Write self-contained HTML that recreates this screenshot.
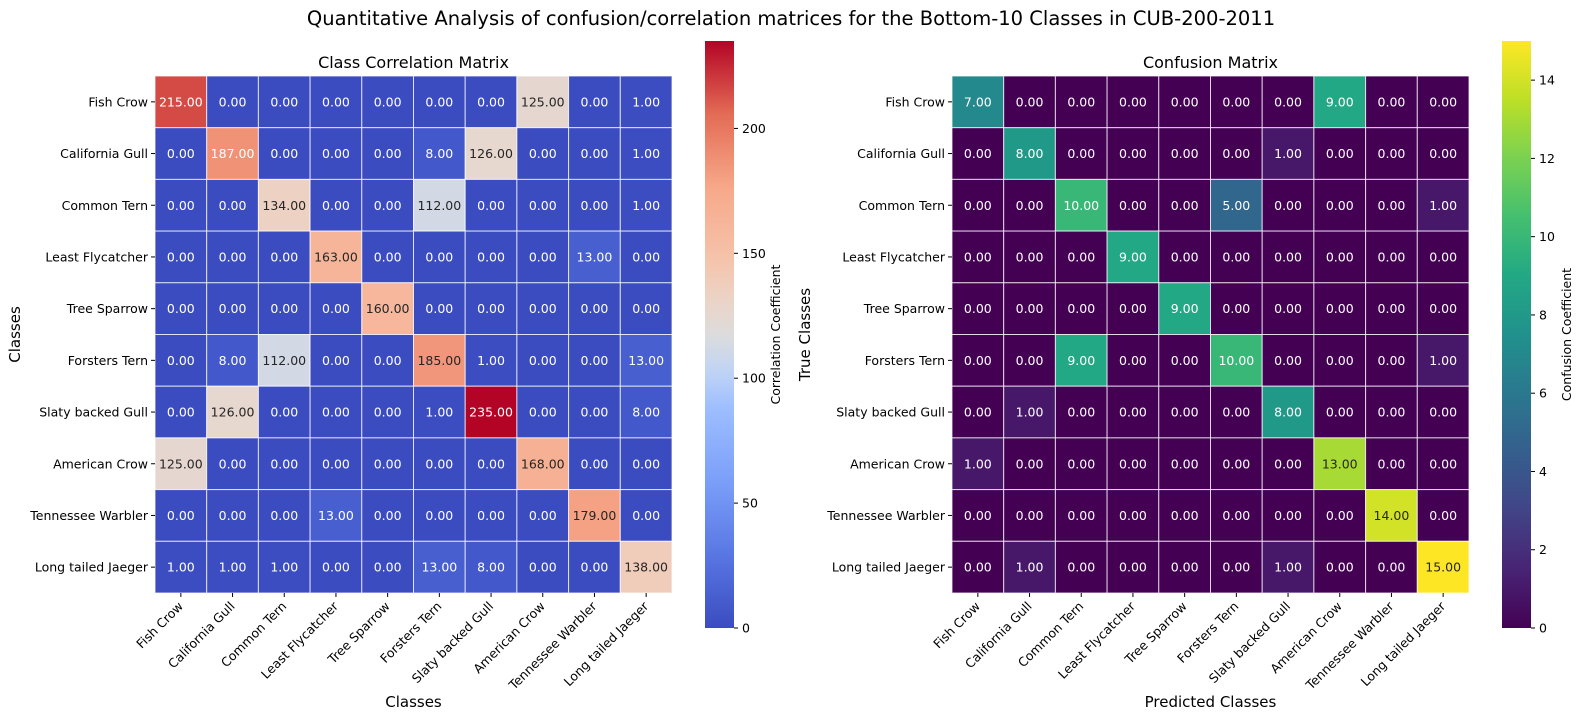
<!DOCTYPE html>
<html><head><meta charset="utf-8"><style>
html,body{margin:0;padding:0;background:#fff;}
svg{display:block;font-family:"DejaVu Sans","Liberation Sans",sans-serif;}
</style></head><body>
<svg id="fig" width="1582" height="723" viewBox="0 0 1582 723" xmlns="http://www.w3.org/2000/svg">
<text x="791" y="25" font-size="19.5" text-anchor="middle">Quantitative Analysis of confusion/correlation matrices for the Bottom-10 Classes in CUB-200-2011</text>
</svg>
<script>
const classes = ["Fish Crow","California Gull","Common Tern","Least Flycatcher","Tree Sparrow","Forsters Tern","Slaty backed Gull","American Crow","Tennessee Warbler","Long tailed Jaeger"];
const corrValues = [
[215,0,0,0,0,0,0,125,0,1],
[0,187,0,0,0,8,126,0,0,1],
[0,0,134,0,0,112,0,0,0,1],
[0,0,0,163,0,0,0,0,13,0],
[0,0,0,0,160,0,0,0,0,0],
[0,8,112,0,0,185,1,0,0,13],
[0,126,0,0,0,1,235,0,0,8],
[125,0,0,0,0,0,0,168,0,0],
[0,0,0,13,0,0,0,0,179,0],
[1,1,1,0,0,13,8,0,0,138]];
const confValues = [
[7,0,0,0,0,0,0,9,0,0],
[0,8,0,0,0,0,1,0,0,0],
[0,0,10,0,0,5,0,0,0,1],
[0,0,0,9,0,0,0,0,0,0],
[0,0,0,0,9,0,0,0,0,0],
[0,0,9,0,0,10,0,0,0,1],
[0,1,0,0,0,0,8,0,0,0],
[1,0,0,0,0,0,0,13,0,0],
[0,0,0,0,0,0,0,0,14,0],
[0,1,0,0,0,0,1,0,0,15]];
const corrTicks = [0,50,100,150,200];
const confTicks = [0,2,4,6,8,10,12,14];

const NS="http://www.w3.org/2000/svg";
const svg=document.getElementById('fig');
function el(tag,attrs,parent){const e=document.createElementNS(NS,tag);for(const k in attrs)e.setAttribute(k,attrs[k]);(parent||svg).appendChild(e);return e;}
function hex(h){return [parseInt(h.slice(1,3),16),parseInt(h.slice(3,5),16),parseInt(h.slice(5,7),16)];}
function cmapPos(stops){const s=stops.map(([p,h])=>[p,hex(h)]);return t=>{t=Math.max(0,Math.min(1,t));let i=0;while(i<s.length-2&&t>s[i+1][0])i++;const f=(t-s[i][0])/(s[i+1][0]-s[i][0]);return s[i][1].map((v,k)=>v+(s[i+1][1][k]-v)*f);};}
const coolwarm=cmapPos([[0,"#3b4cc0"],[0.125,"#5977e3"],[0.25,"#7b9ff9"],[0.375,"#9ebeff"],[0.4375,"#c0d4f5"],[0.5,"#dddcdc"],[0.5625,"#ecd3c5"],[0.625,"#f5c4ac"],[0.75,"#f7a889"],[0.875,"#e36c55"],[1,"#b40426"]]);
const viridis=cmapPos([[0,"#440154"],[0.1,"#482475"],[0.2,"#414487"],[0.3,"#355f8d"],[0.4,"#2a788e"],[0.5,"#21918c"],[0.6,"#22a884"],[0.7,"#44bf70"],[0.8,"#7ad151"],[0.9,"#bddf26"],[1,"#fde725"]]);
function rgb(c){return `rgb(${c.map(Math.round).join(',')})`;}
function lum(c){const l=c.map(v=>{v/=255;return v<=0.03928?v/12.92:Math.pow((v+0.055)/1.055,2.4);});return 0.2126*l[0]+0.7152*l[1]+0.0722*l[2];}

function heatmap(opt){
  const {x0,y0,cell,values,vmax,cmap,title,xlabel,ylabel,ylabelX,cbX,ticks,cbLabel,name}=opt;
  const g=el('g',{});
  
  
  const xs=i=>x0+i*cell, ys=j=>y0+j*cell;
  const t=el('text',{x:x0+5*cell,y:y0-8,'font-size':16,'text-anchor':'middle'},g);t.textContent=title;
  
  
  values.forEach((row,j)=>row.forEach((v,i)=>{
    const c=cmap(v/vmax);
    const r=el('rect',{x:xs(i),y:ys(j),width:cell,height:cell,fill:rgb(c),stroke:'rgba(255,255,255,0.75)','stroke-width':1},g);
    
    
    const tx=el('text',{x:xs(i)+cell/2,y:ys(j)+cell/2+4.5,'font-size':12.5,'text-anchor':'middle',fill:lum(c)>0.408?'#262626':'#fff'},g);
    tx.textContent=v.toFixed(2);
    
    
  }));
  classes.forEach((n,j)=>{
    el('line',{x1:x0-4,x2:x0,y1:ys(j)+cell/2,y2:ys(j)+cell/2,stroke:'#000','stroke-width':1},g);
    const l=el('text',{x:x0-7,y:ys(j)+cell/2+4.5,'font-size':12.5,'text-anchor':'end'},g);l.textContent=n;
    
    
    const xb=xs(j)+cell/2, yb=y0+10*cell;
    el('line',{x1:xb,x2:xb,y1:yb,y2:yb+4,stroke:'#000','stroke-width':1},g);
    const xl=el('text',{x:xb+3,y:yb+14,'font-size':12.5,'text-anchor':'end',transform:`rotate(-45 ${xb+3} ${yb+14})`},g);xl.textContent=n;
    
    
  });
  const xl=el('text',{x:x0+5*cell,y:707,'font-size':15,'text-anchor':'middle'},g);xl.textContent=xlabel;
  
  
  const yl=el('text',{x:ylabelX,y:y0+5*cell,'font-size':15,'text-anchor':'middle',transform:`rotate(-90 ${ylabelX} ${y0+5*cell})`},g);yl.textContent=ylabel;
  
  
  const cbTop=41, cbBot=628, cbW=29;
  const gid='grad'+name;
  const defs=el('defs',{},g);
  const lg=el('linearGradient',{id:gid,x1:0,y1:1,x2:0,y2:0},defs);
  for(let k=0;k<=40;k++){el('stop',{offset:k/40,'stop-color':rgb(cmap(k/40))},lg);}
  const cb=el('rect',{x:cbX,y:cbTop,width:cbW,height:cbBot-cbTop,fill:`url(#${gid})`},g);
  
  
  ticks.forEach(v=>{
    const y=cbBot-(v/vmax)*(cbBot-cbTop);
    el('line',{x1:cbX+cbW,x2:cbX+cbW+4,y1:y,y2:y,stroke:'#000','stroke-width':1},g);
    const tl=el('text',{x:cbX+cbW+8,y:y+4.5,'font-size':12.5},g);tl.textContent=v;
    
    
  });
  const lx=cbX+cbW+(vmax>100?46:40), ly=(cbTop+cbBot)/2;
  const cl=el('text',{x:lx,y:ly,'font-size':12.5,'text-anchor':'middle',transform:`rotate(-90 ${lx} ${ly})`},g);cl.textContent=cbLabel;
  
  
}
heatmap({x0:155,y0:76,cell:51.7,values:corrValues,vmax:235,cmap:coolwarm,title:"Class Correlation Matrix",xlabel:"Classes",ylabel:"Classes",ylabelX:20,cbX:705,ticks:corrTicks,cbLabel:"Correlation Coefficient",name:"correlation-heatmap"});
heatmap({x0:952,y0:76,cell:51.7,values:confValues,vmax:15,cmap:viridis,title:"Confusion Matrix",xlabel:"Predicted Classes",ylabel:"True Classes",ylabelX:810,cbX:1502,ticks:confTicks,cbLabel:"Confusion Coefficient",name:"confusion-heatmap"});
</script>
</body></html>
